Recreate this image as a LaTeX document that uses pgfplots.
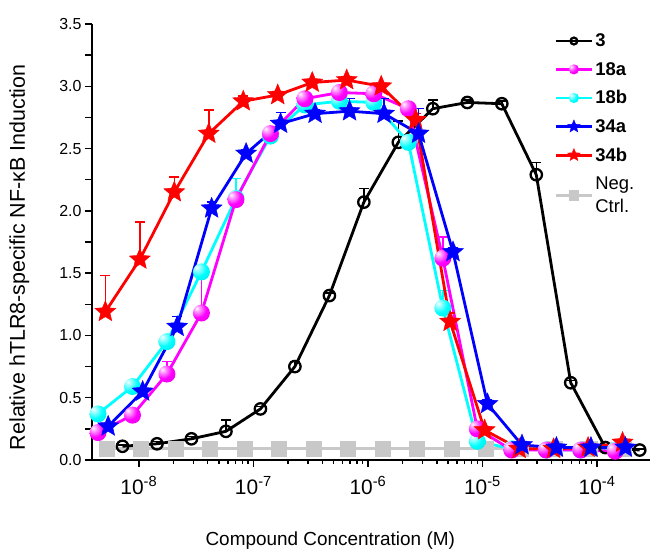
\documentclass[border=0pt]{standalone}
\usepackage{fontspec}
\setmainfont{Liberation Sans}
\usepackage{pgfplots}
\pgfplotsset{compat=1.18}
\definecolor{negc}{RGB}{200,200,200}
\definecolor{mymag}{RGB}{255,0,255}
\definecolor{mycyan}{RGB}{0,255,255}
\definecolor{myblue}{RGB}{0,0,255}
\definecolor{myred}{RGB}{255,0,0}
\pgfdeclareradialshading{magshade}{\pgfpoint{-14bp}{14bp}}{color(0bp)=(white); color(5bp)=(mymag!25!white); color(24bp)=(mymag); color(55bp)=(mymag!85!black); color(100bp)=(mymag!85!black)}
\pgfdeclareradialshading{cyanshade}{\pgfpoint{-14bp}{14bp}}{color(0bp)=(white); color(5bp)=(mycyan!25!white); color(24bp)=(mycyan); color(55bp)=(mycyan!85!black); color(100bp)=(mycyan!85!black)}
\pgfdeclareplotmark{magball}{\pgfpathcircle{\pgfpointorigin}{\pgfplotmarksize}\pgfshadepath{magshade}{0}\pgfusepath{}}
\pgfdeclareplotmark{cyanball}{\pgfpathcircle{\pgfpointorigin}{\pgfplotmarksize}\pgfshadepath{cyanshade}{0}\pgfusepath{}}
\pgfdeclareplotmark{fstar}{%
  \pgfpathmoveto{\pgfpointpolar{90}{\pgfplotmarksize}}%
  \pgfpathlineto{\pgfpointpolar{126}{0.45\pgfplotmarksize}}%
  \pgfpathlineto{\pgfpointpolar{162}{\pgfplotmarksize}}%
  \pgfpathlineto{\pgfpointpolar{198}{0.45\pgfplotmarksize}}%
  \pgfpathlineto{\pgfpointpolar{234}{\pgfplotmarksize}}%
  \pgfpathlineto{\pgfpointpolar{270}{0.45\pgfplotmarksize}}%
  \pgfpathlineto{\pgfpointpolar{306}{\pgfplotmarksize}}%
  \pgfpathlineto{\pgfpointpolar{342}{0.45\pgfplotmarksize}}%
  \pgfpathlineto{\pgfpointpolar{18}{\pgfplotmarksize}}%
  \pgfpathlineto{\pgfpointpolar{54}{0.45\pgfplotmarksize}}%
  \pgfpathclose
  \pgfusepathqfillstroke}
\begin{document}
\begin{tikzpicture}[x=1bp,y=1bp]
\begin{axis}[
  at={(0,0)}, anchor=south west,
  scale only axis, width=558bp, height=436bp,
  xmode=log, xmin=3.9e-9, xmax=2.9e-4,
  ymin=0, ymax=3.5,
  axis lines*=left,
  axis line style={line width=1.6bp},
  every tick/.style={black, line width=1.4bp},
  clip=false,
  xtick={1e-8,1e-7,1e-6,1e-5,1e-4},
  xticklabels={10\textsuperscript{-8},10\textsuperscript{-7},10\textsuperscript{-6},10\textsuperscript{-5},10\textsuperscript{-4}},
  ytick={0,0.25,...,3.5},
  yticklabels={0.0,,0.5,,1.0,,1.5,,2.0,,2.5,,3.0,,3.5},
  tick align=outside,
  major tick length=7bp, minor tick length=4bp,
  xticklabel style={font=\fontsize{21}{21}\selectfont, yshift=-6bp},
  yticklabel style={font=\fontsize{16}{16}\selectfont},
  xlabel={Compound Concentration (M)},
  ylabel={Relative hTLR8-specific NF-κB Induction},
  xlabel style={font=\fontsize{19}{19}\selectfont, at={(axis description cs:0.427,-0.185)}, anchor=center},
  ylabel style={font=\fontsize{21.5}{21.5}\selectfont, at={(axis description cs:-0.13,0.465)}, anchor=center},
  legend style={at={(axis description cs:0.823,0.987)}, anchor=north west, draw=none, fill=none,
    font=\fontsize{18.5}{23}\selectfont\bfseries, row sep=10bp, cells={anchor=west, align=left}},
  legend image code/.code={\draw[mark repeat=2,mark phase=2,#1, every mark/.append style={scale=0.6}] plot coordinates {(0bp,0bp)(18bp,0bp)(36bp,0bp)};},
  error bars/error bar style={line width=1.5bp, solid},
  error bars/error mark options={rotate=90, line width=1.5bp, mark size=5bp},
]
% Negative control
\addplot[negc, line width=3bp, mark=square*, mark size=6.5bp, forget plot] coordinates {
(5.25e-9,0.09)(1.05e-8,0.09)(2.1e-8,0.09)(4.2e-8,0.09)(8.4e-8,0.09)(1.68e-7,0.09)(3.36e-7,0.09)(6.72e-7,0.09)
(1.344e-6,0.09)(2.688e-6,0.09)(5.376e-6,0.09)(1.075e-5,0.09)(2.15e-5,0.09)(4.3e-5,0.09)(8.6e-5,0.09)(1.72e-4,0.09)};
% 3
\addplot[black, line width=2.8bp, mark=o, mark size=5.7bp, mark options={fill=white, line width=2.3bp}, forget plot,
  error bars/.cd, y dir=plus, y explicit] coordinates {
(7.2e-9,0.11) +- (0,0.01)
(1.44e-8,0.13) +- (0,0.02)
(2.88e-8,0.17) +- (0,0.02)
(5.76e-8,0.23) +- (0,0.09)
(1.152e-7,0.41) +- (0,0.02)
(2.304e-7,0.75) +- (0,0.04)
(4.608e-7,1.32) +- (0,0.02)
(9.216e-7,2.07) +- (0,0.11)
(1.843e-6,2.55) +- (0,0.17)
(3.686e-6,2.82) +- (0,0.07)
(7.373e-6,2.87) +- (0,0.02)
(1.475e-5,2.86) +- (0,0.02)
(2.949e-5,2.29) +- (0,0.10)
(5.898e-5,0.62) +- (0,0.02)
(1.180e-4,0.10) +- (0,0.02)
(2.359e-4,0.08) +- (0,0.01)};
% 18b
\addplot[mycyan, line width=2.8bp, mark=cyanball, mark size=8.5bp, forget plot,
  error bars/.cd, y dir=plus, y explicit] coordinates {
(4.4e-9,0.37) +- (0,0.02)
(8.8e-9,0.59) +- (0,0.02)
(1.76e-8,0.95) +- (0,0.02)
(3.52e-8,1.51) +- (0,0.03)
(7.04e-8,2.10) +- (0,0.16)
(1.408e-7,2.60) +- (0,0.03)
(2.816e-7,2.85) +- (0,0.03)
(5.632e-7,2.88) +- (0,0.05)
(1.126e-6,2.87) +- (0,0.04)
(2.253e-6,2.55) +- (0,0.03)
(4.506e-6,1.22) +- (0,0.14)
(9.011e-6,0.15) +- (0,0.03)
(1.802e-5,0.09) +- (0,0.01)
(3.604e-5,0.08) +- (0,0.02)
(7.209e-5,0.08) +- (0,0.02)
(1.442e-4,0.08) +- (0,0.01)};
% 18a
\addplot[mymag, line width=2.8bp, mark=magball, mark size=8.5bp, forget plot,
  error bars/.cd, y dir=plus, y explicit] coordinates {
(4.4e-9,0.22) +- (0,0.02)
(8.8e-9,0.36) +- (0,0.02)
(1.76e-8,0.69) +- (0,0.10)
(3.52e-8,1.18) +- (0,0.29)
(7.04e-8,2.09) +- (0,0.05)
(1.408e-7,2.62) +- (0,0.03)
(2.816e-7,2.90) +- (0,0.03)
(5.632e-7,2.95) +- (0,0.02)
(1.126e-6,2.94) +- (0,0.03)
(2.253e-6,2.82) +- (0,0.05)
(4.506e-6,1.62) +- (0,0.17)
(9.011e-6,0.25) +- (0,0.05)
(1.802e-5,0.08) +- (0,0.01)
(3.604e-5,0.08) +- (0,0.01)
(7.209e-5,0.08) +- (0,0.01)
(1.442e-4,0.07) +- (0,0.01)};
% 34b
\addplot[myred, line width=2.8bp, mark=fstar, mark size=11bp, mark options={fill=myred, draw=myred, line width=0.4bp}, forget plot,
  error bars/.cd, y dir=plus, y explicit] coordinates {
(5.1e-9,1.19) +- (0,0.29)
(1.02e-8,1.61) +- (0,0.30)
(2.04e-8,2.15) +- (0,0.12)
(4.08e-8,2.62) +- (0,0.19)
(8.16e-8,2.88) +- (0,0.04)
(1.632e-7,2.93) +- (0,0.02)
(3.264e-7,3.03) +- (0,0.02)
(6.528e-7,3.05) +- (0,0.02)
(1.306e-6,3.00) +- (0,0.02)
(2.611e-6,2.73) +- (0,0.05)
(5.222e-6,1.11) +- (0,0.07)
(1.044e-5,0.24) +- (0,0.03)
(2.089e-5,0.09) +- (0,0.01)
(4.178e-5,0.09) +- (0,0.01)
(8.356e-5,0.10) +- (0,0.01)
(1.671e-4,0.14) +- (0,0.01)};
% 34a
\addplot[myblue, line width=2.8bp, mark=fstar, mark size=11bp, mark options={fill=myblue, draw=myblue, line width=0.4bp}, forget plot,
  error bars/.cd, y dir=plus, y explicit] coordinates {
(5.4e-9,0.27) +- (0,0.02)
(1.08e-8,0.55) +- (0,0.02)
(2.16e-8,1.07) +- (0,0.08)
(4.32e-8,2.02) +- (0,0.05)
(8.64e-8,2.46) +- (0,0.03)
(1.728e-7,2.70) +- (0,0.09)
(3.456e-7,2.78) +- (0,0.03)
(6.912e-7,2.80) +- (0,0.10)
(1.382e-6,2.78) +- (0,0.12)
(2.765e-6,2.62) +- (0,0.20)
(5.53e-6,1.67) +- (0,0.03)
(1.106e-5,0.45) +- (0,0.03)
(2.212e-5,0.12) +- (0,0.01)
(4.424e-5,0.10) +- (0,0.01)
(8.847e-5,0.10) +- (0,0.01)
(1.769e-4,0.10) +- (0,0.01)};
% legend
\addlegendimage{black, line width=2.8bp, mark=o, mark size=5.7bp, mark options={fill=white, line width=2.3bp}}
\addlegendentry{3}
\addlegendimage{mymag, line width=2.8bp, mark=magball, mark size=8.5bp}
\addlegendentry{18a}
\addlegendimage{mycyan, line width=2.8bp, mark=cyanball, mark size=8.5bp}
\addlegendentry{18b}
\addlegendimage{myblue, line width=2.8bp, mark=fstar, mark size=11bp, mark options={fill=myblue, draw=myblue, line width=0.4bp}}
\addlegendentry{34a}
\addlegendimage{myred, line width=2.8bp, mark=fstar, mark size=11bp, mark options={fill=myred, draw=myred, line width=0.4bp}}
\addlegendentry{34b}
\addlegendimage{negc, line width=3bp, mark=square*, mark size=6.5bp}
\addlegendentry{\mdseries Neg.\\\mdseries Ctrl.}
\end{axis}
\pgfresetboundingbox
\path[use as bounding box] (-92,-91) rectangle (558,460);
\end{tikzpicture}
\end{document}
